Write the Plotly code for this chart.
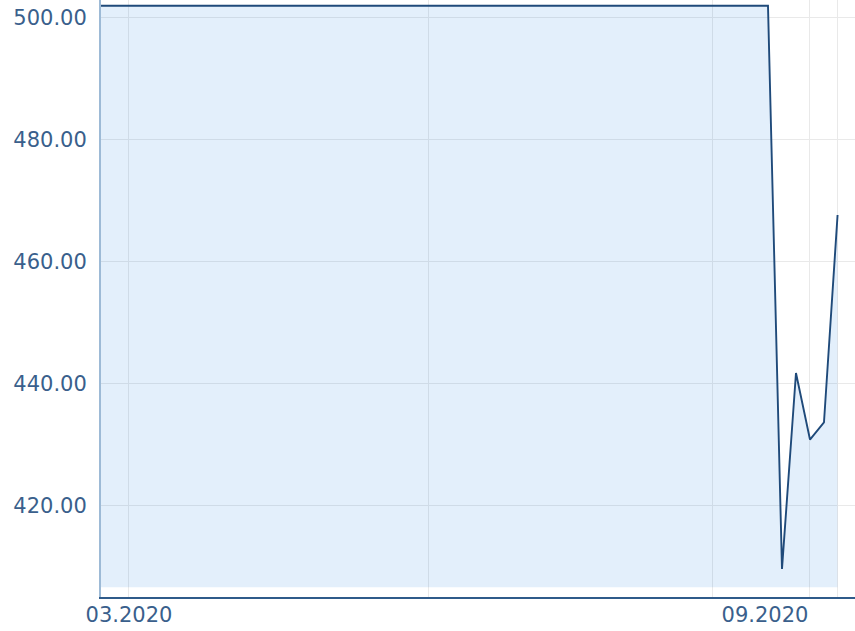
import plotly.graph_objects as go

# ---- data ----
dates = ["2020-02-21 04:00", "2020-09-18 16:00", "2020-09-23 02:00",
         "2020-09-27 12:00", "2020-10-01 22:00", "2020-10-06 08:00",
         "2020-10-10 15:00"]
values = [501.9, 501.9, 409.6, 441.7, 430.8, 433.6, 467.6]
fill_base = 406.6

grid_dates = ["2020-03-01", "2020-06-03 10:00", "2020-09-01",
              "2020-10-01 22:00", "2020-10-10 15:00"]
label_dates = ["2020-03-01", "2020-09-17 17:00"]
label_text = ["03.2020", "09.2020"]

y_ticks = [420, 440, 460, 480, 500]
y_text = ["420.00", "440.00", "460.00", "480.00", "500.00"]

x_range = ["2020-02-21 04:00", "2020-10-16 03:00"]
y_range = [405.0, 502.83]

FONT = dict(family="DejaVu Sans", size=21, color="#3a5f8c")

fig = go.Figure()
fig.add_trace(go.Scatter(
    x=[dates[0], dates[-1]], y=[fill_base, fill_base],
    mode="lines", line=dict(width=0), hoverinfo="skip", showlegend=False))
fig.add_trace(go.Scatter(
    x=dates, y=values, mode="lines", fill="tonexty",
    fillcolor="rgba(0,110,220,0.11)",
    line=dict(color="#1f4a7a", width=1.9), showlegend=False))
# invisible trace to activate the label axis
fig.add_trace(go.Scatter(x=x_range, y=y_range, xaxis="x2", mode="lines",
                         line=dict(width=0), hoverinfo="skip", showlegend=False))

fig.update_layout(
    width=855, height=631,
    margin=dict(l=101, r=0, t=0, b=34, autoexpand=False),
    plot_bgcolor="white", paper_bgcolor="white",
    xaxis=dict(type="date", range=x_range, tickmode="array", tickvals=grid_dates,
               showticklabels=False, showgrid=True, gridcolor="#e9e9e9", gridwidth=1.3,
               showline=True, linecolor="#2f5b8a", linewidth=2, zeroline=False),
    xaxis2=dict(type="date", range=x_range, overlaying="x", side="bottom",
                tickmode="array", tickvals=label_dates, ticktext=label_text,
                showgrid=False, showline=False, zeroline=False, tickfont=FONT,
                ticks="", ticklabelstandoff=3),
    yaxis=dict(range=y_range, tickmode="array", tickvals=y_ticks, ticktext=y_text,
               showgrid=True, gridcolor="#e9e9e9", gridwidth=1.3,
               showline=True, linecolor="#9dbad6", linewidth=2, zeroline=False,
               tickfont=FONT, ticks="", ticklabelstandoff=8),
)

fig.write_html("out.html", config={"displayModeBar": False},
               post_script="document.body.style.margin='0';document.body.style.overflow='hidden';")
